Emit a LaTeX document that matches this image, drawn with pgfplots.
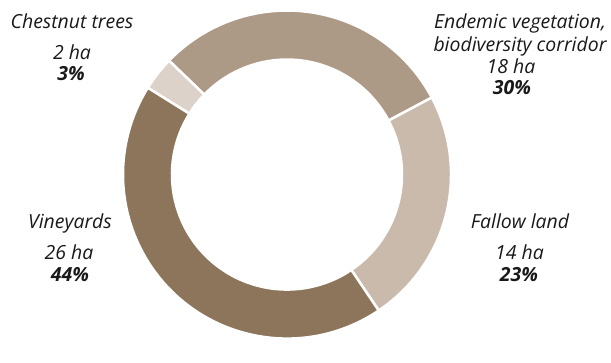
\documentclass[border=0pt]{standalone}
\usepackage{fontspec}
\setmainfont{Open Sans}
\usepackage{pgfplots}
\usepackage{pgfplotstable}
\pgfplotsset{compat=1.18}
\definecolor{cEnd}{HTML}{AD9A86}
\definecolor{cFal}{HTML}{CABAAC}
\definecolor{cVin}{HTML}{8C755A}
\definecolor{cChe}{HTML}{DCD2CA}
\pgfplotstableread[col sep=comma]{
name,ha,pct
Endemic,18,30
Fallow,14,23
Vineyards,26,44
Chestnut,2,3
}\landuse
\pgfplotstablegetelem{0}{ha}\of\landuse \let\haA\pgfplotsretval
\pgfplotstablegetelem{1}{ha}\of\landuse \let\haB\pgfplotsretval
\pgfplotstablegetelem{2}{ha}\of\landuse \let\haC\pgfplotsretval
\pgfplotstablegetelem{3}{ha}\of\landuse \let\haD\pgfplotsretval
\pgfmathsetmacro{\tot}{\haA+\haB+\haC+\haD}
\pgfmathsetmacro{\aO}{136}
\pgfmathsetmacro{\aA}{\aO-360*\haA/\tot}
\pgfmathsetmacro{\aB}{\aA-360*\haB/\tot}
\pgfmathsetmacro{\aC}{\aB-360*\haC/\tot}
\pgfmathsetmacro{\aD}{\aC-360*\haD/\tot}
\def\Ro{164}
\def\Ri{115}
\newcommand\slice[3]{%
  \fill[#3, draw=white, line width=2.5bp]
    ({\Ro*cos(#1)},{\Ro*sin(#1)}) arc[start angle=#1, end angle=#2, radius=\Ro bp]
    -- ({\Ri*cos(#2)},{\Ri*sin(#2)}) arc[start angle=#2, end angle=#1, radius=\Ri bp] -- cycle;}
\tikzset{lbl/.style={font=\fontsize{19.5}{22}\selectfont\itshape, text=black!90, anchor=base, inner sep=0pt}}
\begin{document}
\begin{tikzpicture}
\begin{axis}[
  x=1bp, y=1bp, disabledatascaling,
  xmin=-287, xmax=324, ymin=-167, ymax=173,
  hide axis, clip=false,
]
\path (axis cs:-287,-167) rectangle (axis cs:324,173);
\slice{\aO}{\aA}{cEnd}
\slice{\aA}{\aB}{cFal}
\slice{\aB}{\aC}{cVin}
\slice{\aC}{\aD}{cChe}
% labels
\node[lbl] at (axis cs:-215,146) {Chestnut trees};
\node[lbl] at (axis cs:-215,115) {2 ha};
\node[lbl] at (axis cs:-216,94) {\bfseries 3\%};
\node[lbl] at (axis cs:233,146) {Endemic vegetation,};
\node[lbl] at (axis cs:233,123) {biodiversity corridor};
\node[lbl] at (axis cs:224,101) {18 ha};
\node[lbl] at (axis cs:225,80) {\bfseries 30\%};
\node[lbl] at (axis cs:-217,-54) {Vineyards};
\node[lbl] at (axis cs:-218,-85) {26 ha};
\node[lbl] at (axis cs:-217,-107) {\bfseries 44\%};
\node[lbl] at (axis cs:233,-54) {Fallow land};
\node[lbl] at (axis cs:232.5,-85) {14 ha};
\node[lbl] at (axis cs:232,-107) {\bfseries 23\%};
\end{axis}
\end{tikzpicture}
\end{document}
